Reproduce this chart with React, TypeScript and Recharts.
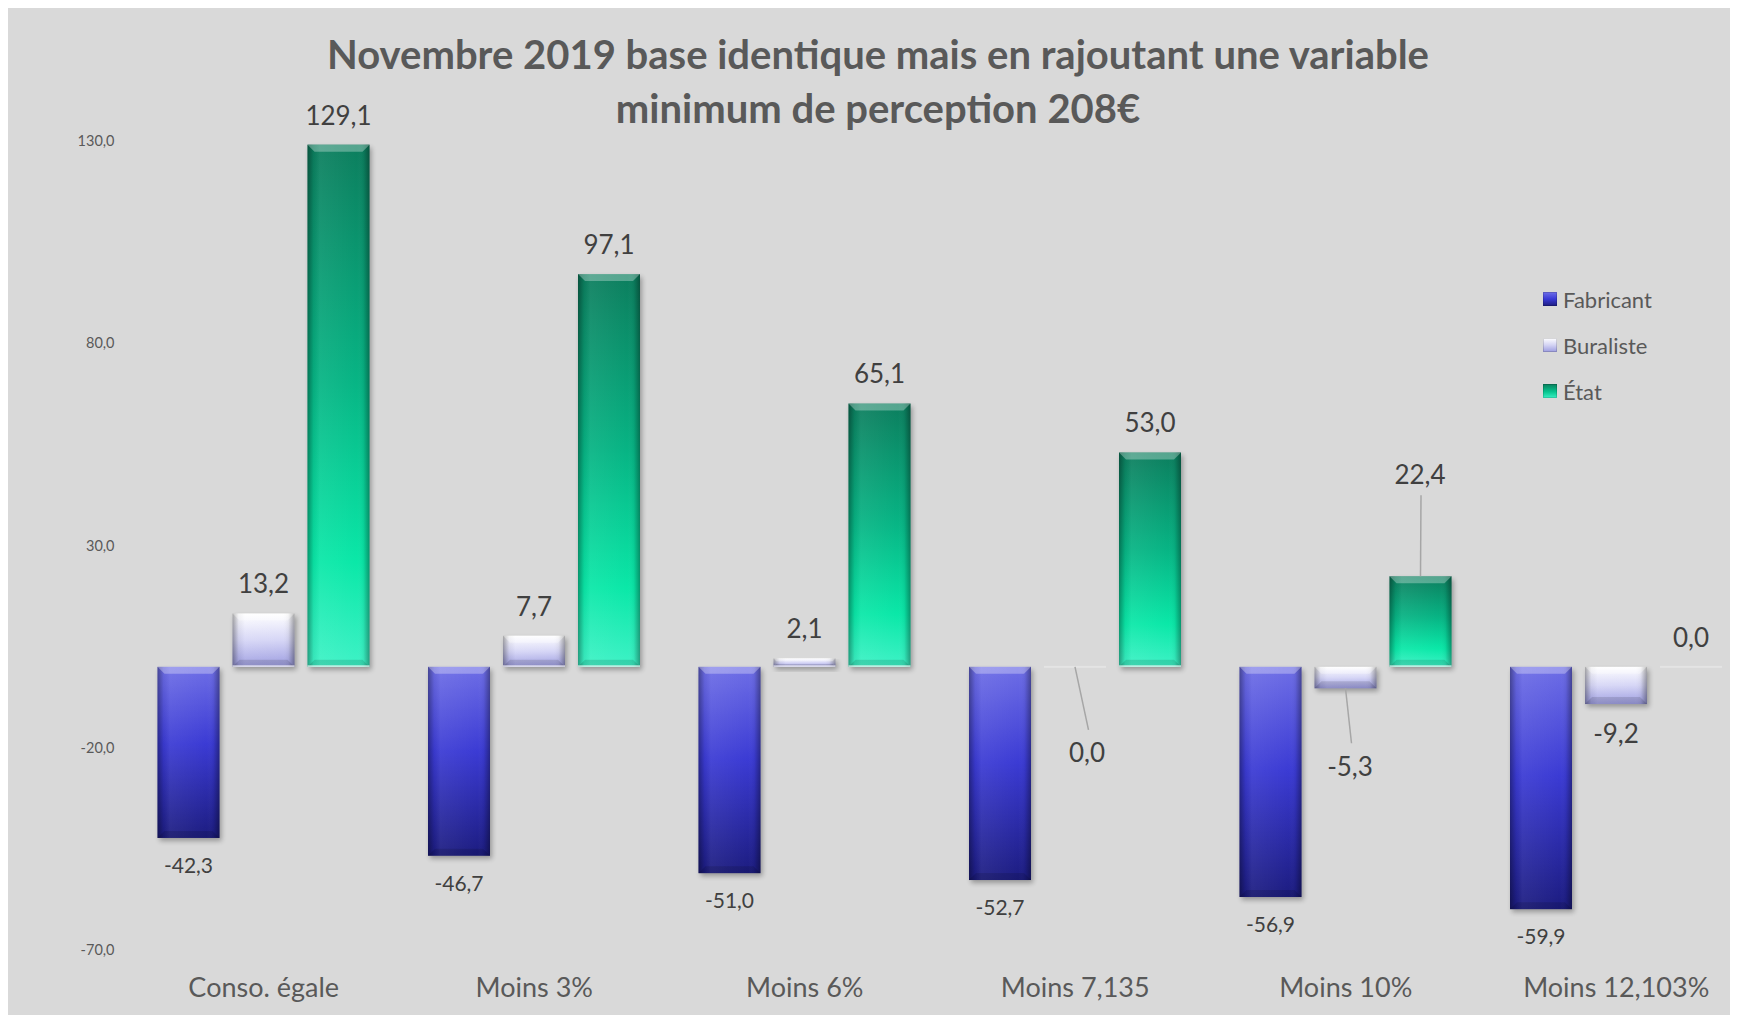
import React from 'react';
import { BarChart, Bar, XAxis, YAxis, LabelList } from 'recharts';

const categories = ['Conso. égale', 'Moins 3%', 'Moins 6%', 'Moins 7,135', 'Moins 10%', 'Moins 12,103%'];
const fabricant = [-42.3, -46.7, -51.0, -52.7, -56.9, -59.9];
const buraliste = [13.2, 7.7, 2.1, 0.0, -5.3, -9.2];
const etat = [129.1, 97.1, 65.1, 53.0, 22.4, 0.0];
const yTicks = [-70, -20, 30, 80, 130];
const seriesNames = ['Fabricant', 'Buraliste', 'État'];

const data = categories.map((name, i) => ({
  name,
  fabricant: fabricant[i],
  buraliste: buraliste[i],
  etat: etat[i],
}));

// label placement adjustments (label positions moved by hand in the original, with leader lines)
const labelNudges = [
  { series: 'buraliste', index: 3, dx: 12, dy: 86 },
  { series: 'buraliste', index: 4, dx: 4.5, dy: 78 },
  { series: 'etat', index: 4, dx: -0.5, dy: -102 },
];

const FONT = 'Lato, "Open Sans", sans-serif';
const fmt = (v: number) => v.toFixed(1).replace('.', ',');

const makeShape = (gradId: string) => (props: any) => {
  const { x, y, width, height, value } = props;
  const v = Array.isArray(value) ? value[1] : value;
  const top = Math.min(y, y + height);
  const h = Math.abs(height);
  if (h < 1) {
    return <rect x={x} y={top - 1} width={width} height={2} fill="#ffffff" opacity={0.3} />;
  }
  const b = Math.min(7, h / 3, width / 4);
  const bottom = top + h;
  return (
    <g>
      <rect x={x + 2} y={top + 3} width={width} height={h} fill="#000" opacity={0.3} filter="url(#shadowBlur)" />
      <rect x={x} y={top} width={width} height={h} fill={`url(#${gradId})`} />
      <rect x={x} y={top} width={width} height={h} fill="url(#sideShade)" />
      <polygon
        points={`${x},${top} ${x + width},${top} ${x + width - b},${top + b} ${x + b},${top + b}`}
        fill="#ffffff"
        opacity={0.3}
      />
      <polygon
        points={`${x},${bottom} ${x + width},${bottom} ${x + width - b},${bottom - b} ${x + b},${bottom - b}`}
        fill="#000000"
        opacity={0.12}
      />
      {v > 0 && <rect x={x} y={bottom - 1.5} width={width} height={1.5} fill="#ffffff" opacity={0.75} />}
    </g>
  );
};

const makeLabel = (series: string, fontSize: number, gap: number) => (props: any) => {
  const { index, value } = props;
  const vb = props.viewBox ?? props;
  const top = Math.min(vb.y, vb.y + vb.height);
  const bottom = Math.max(vb.y, vb.y + vb.height);
  const cx = vb.x + vb.width / 2;
  const v = Number(value);
  const neg = v < 0;
  let lx = cx;
  let ly = neg ? bottom + gap : top - gap;
  let line: React.ReactNode = null;
  const n = labelNudges.find((q) => q.series === series && q.index === index);
  if (n) {
    const anchorY = neg ? bottom : top;
    lx = cx + n.dx;
    ly = anchorY + n.dy;
    const endY = n.dy > 0 ? ly - 23 : ly + 21;
    const endX = n.dy > 0 ? lx + 1.5 : lx + 1;
    line = <line x1={cx} y1={anchorY} x2={endX} y2={endY} stroke="#a6a6a6" strokeWidth={1.5} />;
  }
  return (
    <g>
      {line}
      <text
        x={lx}
        y={ly + fontSize * 0.36}
        textAnchor="middle"
        fontFamily={FONT}
        fontSize={fontSize}
        fill="#404040"
      >
        {fmt(v)}
      </text>
    </g>
  );
};

const legendGrads = [
  'linear-gradient(180deg, #7070e8 0%, #3a3ad6 50%, #1c1c7e 100%)',
  'linear-gradient(180deg, #ffffff 0%, #d4d4f4 50%, #9c9ce0 100%)',
  'linear-gradient(180deg, #0b7d5c 0%, #06c48e 55%, #3af0c4 100%)',
];

export default function App() {
  return (
    <div
      style={{
        position: 'relative',
        width: 1760,
        height: 1007,
        background: '#d9d9d9',
        overflow: 'hidden',
        fontFamily: FONT,
      }}
    >
      <style>{`html,body{overflow:hidden;}`}</style>
      <div
        style={{
          position: 'absolute',
          left: 0,
          top: 20,
          width: 1740,
          textAlign: 'center',
          fontFamily: FONT,
          fontWeight: 700,
          fontSize: 40,
          lineHeight: '53.5px',
          color: '#595959',
        }}
      >
        Novembre 2019 base identique mais en rajoutant une variable
        <br />
        minimum de perception 208€
      </div>
      <BarChart
        width={1760}
        height={1007}
        data={data}
        margin={{ top: 133, right: 16.5, bottom: 25, left: 0 }}
        barSize={62}
        barGap={13}
      >
        <defs>
          <linearGradient id="gFab" x1="0" y1="0" x2="0" y2="1">
            <stop offset="0%" stopColor="#6e6ee6" />
            <stop offset="45%" stopColor="#3b3bd4" />
            <stop offset="100%" stopColor="#1c1c80" />
          </linearGradient>
          <linearGradient id="gBur" x1="0" y1="0" x2="0" y2="1">
            <stop offset="0%" stopColor="#ffffff" />
            <stop offset="50%" stopColor="#d6d6f6" />
            <stop offset="100%" stopColor="#9c9ce0" />
          </linearGradient>
          <linearGradient id="gEtat" x1="0" y1="0" x2="0" y2="1">
            <stop offset="0%" stopColor="#0c7e5e" />
            <stop offset="45%" stopColor="#07b484" />
            <stop offset="80%" stopColor="#0ae8a8" />
            <stop offset="100%" stopColor="#3ef2c6" />
          </linearGradient>
          <linearGradient id="sideShade" x1="0" y1="0" x2="1" y2="0">
            <stop offset="0%" stopColor="#000" stopOpacity={0.35} />
            <stop offset="10%" stopColor="#000" stopOpacity={0.05} />
            <stop offset="20%" stopColor="#fff" stopOpacity={0.06} />
            <stop offset="80%" stopColor="#fff" stopOpacity={0.0} />
            <stop offset="90%" stopColor="#000" stopOpacity={0.05} />
            <stop offset="100%" stopColor="#000" stopOpacity={0.35} />
          </linearGradient>
          <filter id="shadowBlur" x="-20%" y="-20%" width="140%" height="140%">
            <feGaussianBlur stdDeviation="2.5" />
          </filter>
        </defs>
        <XAxis
          dataKey="name"
          axisLine={false}
          tickLine={false}
          tickSize={0}
          tickMargin={28}
          height={40}
          interval={0}
          tick={{ fill: '#595959', fontSize: 27, fontFamily: FONT }}
        />
        <YAxis
          domain={[-70, 130]}
          ticks={yTicks}
          interval={0}
          width={120.5}
          axisLine={false}
          tickLine={false}
          tickSize={0}
          tickMargin={14}
          tickFormatter={(v: number) => fmt(v)}
          tick={{ fill: '#595959', fontSize: 14.5, fontFamily: FONT }}
        />
        <Bar dataKey="fabricant" name={seriesNames[0]} isAnimationActive={false} shape={makeShape('gFab')}>
          <LabelList dataKey="fabricant" content={makeLabel('fabricant', 21, 27.7)} />
        </Bar>
        <Bar dataKey="buraliste" name={seriesNames[1]} isAnimationActive={false} shape={makeShape('gBur')}>
          <LabelList dataKey="buraliste" content={makeLabel('buraliste', 26, 29.5)} />
        </Bar>
        <Bar dataKey="etat" name={seriesNames[2]} isAnimationActive={false} shape={makeShape('gEtat')}>
          <LabelList dataKey="etat" content={makeLabel('etat', 26, 29.5)} />
        </Bar>
      </BarChart>
      <div style={{ position: 'absolute', left: 1535, top: 268 }}>
        {seriesNames.map((s, i) => (
          <div key={s} style={{ display: 'flex', alignItems: 'center', height: 46 }}>
            <div
              style={{
                width: 14,
                height: 14,
                background: legendGrads[i],
                boxShadow: 'inset 0 0 0 1px rgba(0,0,0,0.15)',
                marginRight: 6,
              }}
            />
            <span style={{ fontSize: 22, color: '#595959', fontFamily: FONT }}>{s}</span>
          </div>
        ))}
      </div>
    </div>
  );
}
